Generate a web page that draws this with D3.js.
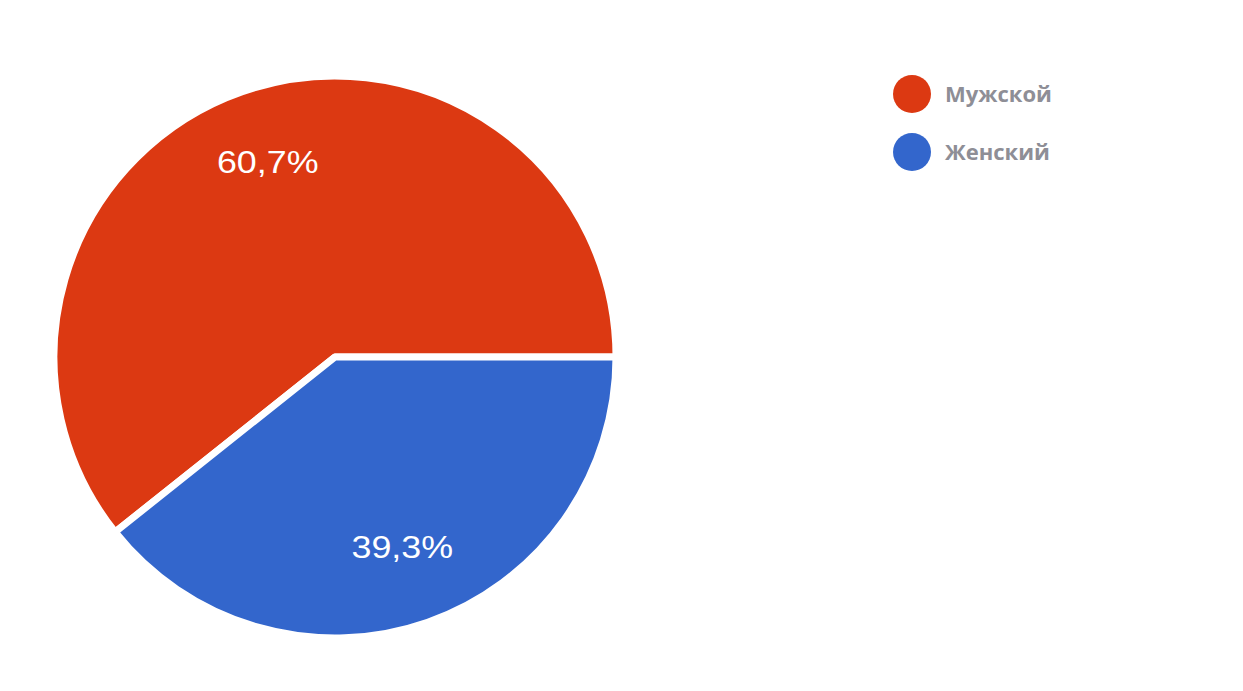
<!DOCTYPE html>
<html>
<head>
<meta charset="utf-8">
<script src="https://cdn.jsdelivr.net/npm/d3@7"></script>
<style>
  body { margin: 0; background: #fff; }
  svg { display: block; }
</style>
</head>
<body>
<svg width="1243" height="691"></svg>
<script>
// data
var categories = ["Мужской", "Женский"];
var values = [60.7, 39.3];
var colors = ["#dc3912", "#3366cc"];

var svg = d3.select("svg"),
    width = +svg.attr("width"),
    height = +svg.attr("height");

var cx = 335, cy = 357, radius = 281;

var data = categories.map(function(c, i) { return {name: c, value: values[i], color: colors[i]}; });

// second slice begins at 3 o'clock, clockwise
var total = d3.sum(values);
var womenAngle = values[1] / total * 2 * Math.PI;
var start = Math.PI / 2;

var pie = d3.pie()
    .value(function(d) { return d.value; })
    .sort(null)
    .startAngle(start + womenAngle - 2 * Math.PI)
    .endAngle(start + womenAngle);

var arc = d3.arc().innerRadius(0).outerRadius(radius);
var labelArc = d3.arc().innerRadius(204).outerRadius(204);

var g = svg.append("g").attr("transform", "translate(" + cx + "," + cy + ")");

var slices = pie(data);

g.selectAll("path")
  .data(slices)
  .enter().append("path")
    .attr("d", arc)
    .attr("fill", function(d) { return d.data.color; })
    .attr("stroke", "#fff")
    .attr("stroke-width", 7)
    .attr("stroke-linejoin", "round");

g.selectAll("text.pct")
  .data(slices)
  .enter().append("text")
    .attr("class", "pct")
    .attr("transform", function(d) {
      var c = labelArc.centroid(d);
      return "translate(" + c[0] + "," + (c[1] - 3) + ") scale(1.12,1)";
    })
    .attr("text-anchor", "middle")
    .attr("dy", "0.36em")
    .attr("fill", "#fff")
    .style("font-family", "'Liberation Sans', Arial, sans-serif")
    .style("font-size", "32px")
    .text(function(d) { return d.data.value.toFixed(1).replace(".", ",") + "%"; });

// legend
var legend = svg.append("g").attr("transform", "translate(912,94)");
var item = legend.selectAll("g")
  .data(data)
  .enter().append("g")
    .attr("transform", function(d, i) { return "translate(0," + (i * 58) + ")"; });

item.append("circle")
    .attr("r", 19)
    .attr("fill", function(d) { return d.color; });

item.append("text")
    .attr("x", 33)
    .attr("dy", "0.35em")
    .attr("fill", "#8e8e96")
    .style("font-family", "'Open Sans', 'DejaVu Sans', sans-serif")
    .style("font-weight", "bold")
    .style("font-size", "22px")
    .text(function(d) { return d.name; });
</script>
</body>
</html>
